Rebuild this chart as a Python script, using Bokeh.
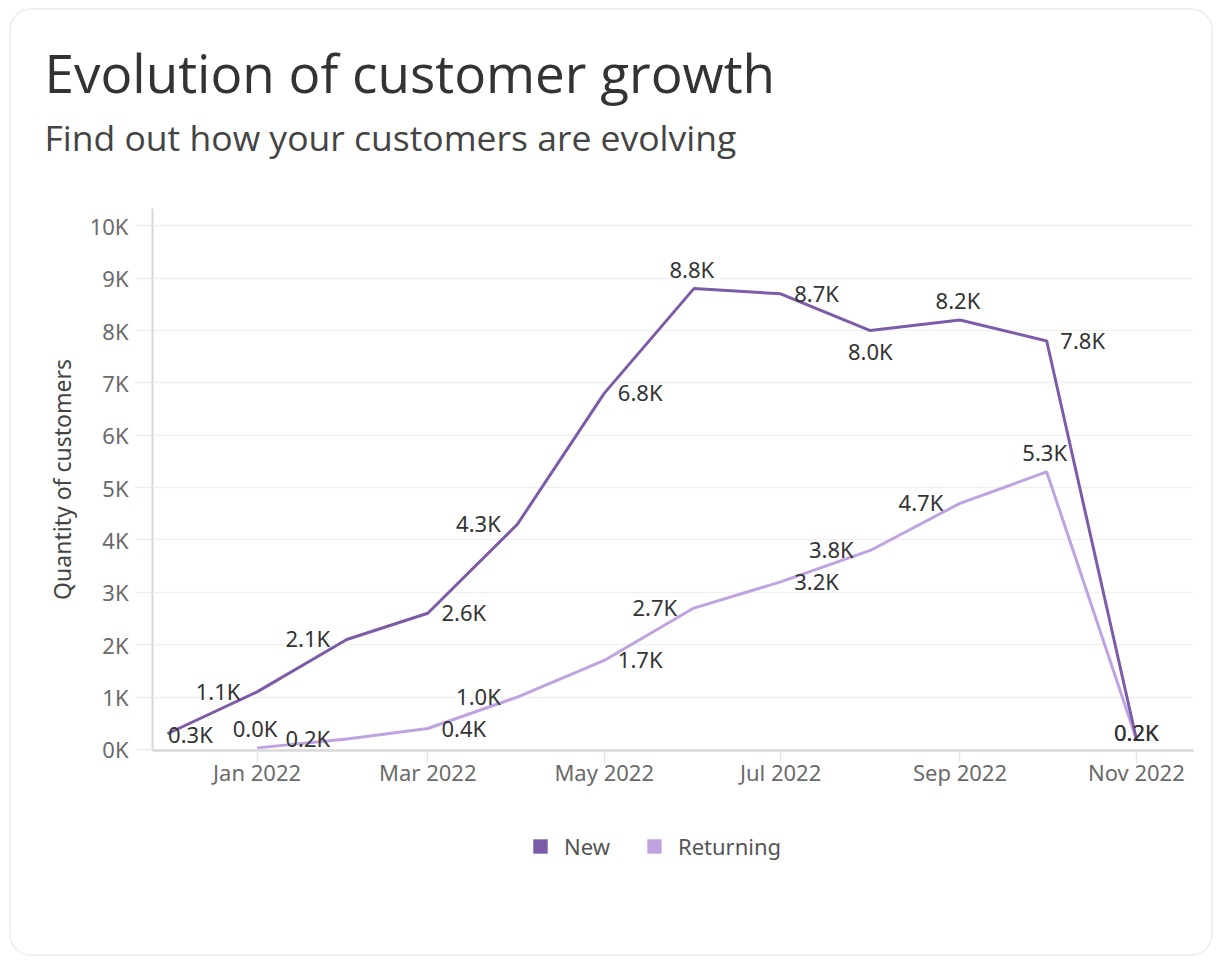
from datetime import datetime
import pandas as pd
from bokeh.plotting import figure
from bokeh.layouts import column
from bokeh.models import (ColumnDataSource, Range1d, MonthsTicker, DatetimeTickFormatter,
                          FixedTicker, Legend, LegendItem, Label)
from bokeh.core.properties import value
from bokeh.embed import file_html
from bokeh.resources import INLINE

# ---------------- data ----------------
title_text = "Evolution of customer growth"
subtitle_text = "Find out how your customers are evolving"
y_axis_title = "Quantity of customers"
series_names = ["New", "Returning"]

new_dates = ["2021-12-01", "2022-01-01", "2022-02-01", "2022-03-01", "2022-04-01", "2022-05-01",
             "2022-06-01", "2022-07-01", "2022-08-01", "2022-09-01", "2022-10-01", "2022-11-01"]
new_values = [300, 1100, 2100, 2600, 4300, 6800, 8800, 8700, 8000, 8200, 7800, 200]
new_label_side = ["edge", "left", "left", "right", "left", "right",
                  "above", "right", "below", "above", "right", "center"]

ret_dates = ["2022-01-01", "2022-02-01", "2022-03-01", "2022-04-01", "2022-05-01", "2022-06-01",
             "2022-07-01", "2022-08-01", "2022-09-01", "2022-10-01", "2022-11-01"]
ret_values = [30, 200, 400, 1000, 1700, 2700, 3200, 3800, 4700, 5300, 200]
ret_label_side = ["above", "left", "right", "left", "right", "left",
                  "right", "left", "left", "above", "center"]

y_ticks = [0, 1000, 2000, 3000, 4000, 5000, 6000, 7000, 8000, 9000, 10000]
y_tick_labels = ["0K", "1K", "2K", "3K", "4K", "5K", "6K", "7K", "8K", "9K", "10K"]

# ---------------- styles ----------------
NEW_COLOR = "#7c5ba8"
RET_COLOR = "#bfa3e0"
FONT = "Noto Sans"
side_offsets = {"left": (-39, -1), "right": (36, -1), "above": (-2, -20),
                "below": (0, 20), "center": (0, -7), "edge": (23, 0)}


def make_source(dates, vals, sides):
    return ColumnDataSource(dict(
        x=pd.to_datetime(dates),
        y=vals,
        label=[f"{v / 1000:.1f}K" for v in vals],
        dx=[side_offsets[s][0] for s in sides],
        dy=[side_offsets[s][1] for s in sides],
    ))


def blank_strip(height):
    f = figure(width=1200, height=height, x_range=Range1d(0, 1), y_range=Range1d(0, 1),
               x_axis_location=None, y_axis_location=None, title=None,
               output_backend="svg", toolbar_location=None,
               min_border_left=0, min_border_right=0, min_border_top=0, min_border_bottom=0,
               background_fill_color="white", border_fill_color="white", outline_line_color=None)
    f.grid.visible = False
    return f


src_new = make_source(new_dates, new_values, new_label_side)
src_ret = make_source(ret_dates, ret_values, ret_label_side)

# ---------------- header strip ----------------
hdr = blank_strip(188)
hdr.add_layout(Label(x=33, y=126, x_units="screen", y_units="screen", text=title_text,
                     text_font="Open Sans", text_font_size="53px", text_color="#333333",
                     text_align="left", text_baseline="alphabetic"))
hdr.add_layout(Label(x=33, y=62, x_units="screen", y_units="screen", text=subtitle_text,
                     text_font="Open Sans", text_font_size="35.5px", text_color="#444444",
                     text_align="left", text_baseline="alphabetic"))

# ---------------- chart ----------------
p = figure(frame_width=1041, frame_height=542, x_axis_type="datetime", title=None,
           x_range=Range1d(datetime(2021, 11, 25, 20), datetime(2022, 11, 20, 18)),
           y_range=Range1d(-20, 10330),
           output_backend="svg", toolbar_location=None,
           min_border_left=141, min_border_right=18, min_border_top=10, min_border_bottom=60,
           background_fill_color="white", border_fill_color="white", outline_line_color=None)

p.xgrid.grid_line_color = None
p.ygrid.grid_line_color = "#f1f1f1"
p.ygrid.grid_line_width = 1.5

p.yaxis.ticker = FixedTicker(ticks=y_ticks)
p.yaxis.major_label_overrides = {t: l for t, l in zip(y_ticks, y_tick_labels)}
p.yaxis.axis_line_color = "#d8d8d8"
p.yaxis.axis_line_width = 2
p.yaxis.major_tick_line_color = "#eeeeee"
p.yaxis.major_tick_line_width = 1.5
p.yaxis.major_tick_out = 17
p.yaxis.major_tick_in = 0
p.yaxis.minor_tick_line_color = None
p.yaxis.major_label_standoff = 7
p.yaxis.major_label_text_font = FONT
p.yaxis.major_label_text_font_size = "22px"
p.yaxis.major_label_text_color = "#6a6a6a"
p.yaxis.axis_label = y_axis_title
p.yaxis.axis_label_text_font = FONT
p.yaxis.axis_label_text_font_size = "23px"
p.yaxis.axis_label_text_font_style = "normal"
p.yaxis.axis_label_text_color = "#444444"
p.yaxis.axis_label_standoff = 9

p.xaxis.ticker = MonthsTicker(months=[0, 2, 4, 6, 8, 10])
p.xaxis.formatter = DatetimeTickFormatter(months="%b %Y", days="%b %Y")
p.xaxis.axis_line_color = "#d8d8d8"
p.xaxis.axis_line_width = 2.5
p.xaxis.major_tick_line_color = "#e6e6e6"
p.xaxis.major_tick_line_width = 1.5
p.xaxis.major_tick_out = 12
p.xaxis.major_tick_in = 0
p.xaxis.minor_tick_line_color = None
p.xaxis.major_label_standoff = -6
p.xaxis.major_label_text_font = FONT
p.xaxis.major_label_text_font_size = "22px"
p.xaxis.major_label_text_color = "#6a6a6a"

p.line("x", "y", source=src_ret, line_color=RET_COLOR, line_width=3)
p.line("x", "y", source=src_new, line_color=NEW_COLOR, line_width=3)

for src in (src_new, src_ret):
    p.text("x", "y", text="label", source=src, x_offset="dx", y_offset="dy",
           text_font=value(FONT), text_font_size="22px", text_color="#333333",
           text_align="center", text_baseline="middle")

# ---------------- legend strip ----------------
lf = blank_strip(144)
sw_new = lf.quad(left=[0], right=[0], bottom=[float("nan")], top=[float("nan")],
                 fill_color=NEW_COLOR, line_color=None)
sw_ret = lf.quad(left=[0], right=[0], bottom=[float("nan")], top=[float("nan")],
                 fill_color=RET_COLOR, line_color=None)
legend = Legend(items=[LegendItem(label=series_names[0], renderers=[sw_new]),
                       LegendItem(label=series_names[1], renderers=[sw_ret])],
                orientation="horizontal", location=(379, 93),
                border_line_color=None, background_fill_alpha=0,
                label_text_font=FONT, label_text_font_size="22px", label_text_color="#555555",
                glyph_width=18, glyph_height=18, label_standoff=15, spacing=35,
                padding=0, margin=0)
lf.add_layout(legend, "center")

card = column(hdr, column(p, lf, spacing=0), spacing=0)
card.styles = {"margin-left": "9px", "margin-top": "8px", "border": "2px solid #efefef",
               "border-radius": "22px", "overflow": "hidden", "background": "white"}

open("out.html", "w").write(file_html(card, INLINE))
